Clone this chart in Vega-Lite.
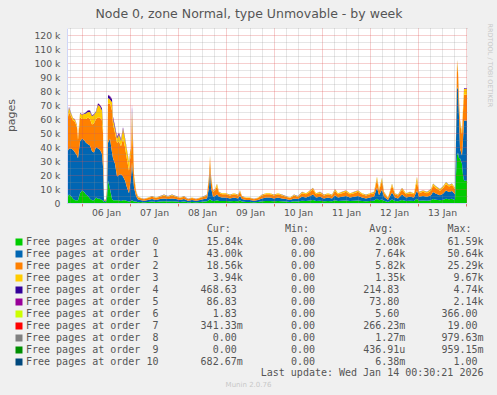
{
  "$schema": "https://vega.github.io/schema/vega-lite/v6.json",
  "width": 400,
  "height": 175,
  "autosize": "none",
  "padding": {"left": 67, "top": 28, "right": 30, "bottom": 192},
  "background": "#f0f0f0",
  "view": {"fill": "#ffffff", "stroke": null},
  "title": {"text": "Node 0, zone Normal, type Unmovable - by week", "font": "DejaVu Sans", "fontSize": 12.5, "fontWeight": "normal", "color": "#555555", "frame": "group", "anchor": "middle", "dx": -18, "offset": 3},
  "data": {"values": [
    {"t":"2026-01-05T16:30","o0":4000,"o1":32000,"o2":22000,"o3":2000,"o4":500,"o5":300},
    {"t":"2026-01-05T17:30","o0":6000,"o1":33000,"o2":26000,"o3":3000,"o4":500,"o5":300},
    {"t":"2026-01-05T18:30","o0":5000,"o1":34000,"o2":23000,"o3":2000,"o4":300,"o5":100},
    {"t":"2026-01-05T19:30","o0":3000,"o1":35000,"o2":21000,"o3":1500,"o4":200,"o5":100},
    {"t":"2026-01-05T20:30","o0":2000,"o1":34000,"o2":22000,"o3":1500,"o4":200,"o5":100},
    {"t":"2026-01-05T21:30","o0":2000,"o1":32000,"o2":20000,"o3":1500,"o4":300,"o5":100},
    {"t":"2026-01-05T22:00","o0":2000,"o1":30000,"o2":13000,"o3":1500,"o4":300,"o5":100},
    {"t":"2026-01-05T23:00","o0":7000,"o1":37000,"o2":17000,"o3":3000,"o4":300,"o5":100},
    {"t":"2026-01-06T00:00","o0":9000,"o1":37000,"o2":14000,"o3":3000,"o4":300,"o5":100},
    {"t":"2026-01-06T01:00","o0":8000,"o1":37000,"o2":15000,"o3":3500,"o4":400,"o5":100},
    {"t":"2026-01-06T02:00","o0":6000,"o1":37000,"o2":17000,"o3":4000,"o4":800,"o5":200},
    {"t":"2026-01-06T03:00","o0":5000,"o1":37000,"o2":19000,"o3":4000,"o4":1000,"o5":300},
    {"t":"2026-01-06T04:00","o0":3000,"o1":38000,"o2":19000,"o3":5000,"o4":1000,"o5":200},
    {"t":"2026-01-06T05:00","o0":2000,"o1":35000,"o2":19000,"o3":6000,"o4":500,"o5":100},
    {"t":"2026-01-06T06:00","o0":2000,"o1":34000,"o2":21000,"o3":6000,"o4":400,"o5":100},
    {"t":"2026-01-06T07:00","o0":4000,"o1":36000,"o2":20000,"o3":5000,"o4":500,"o5":100},
    {"t":"2026-01-06T08:00","o0":3000,"o1":36000,"o2":22000,"o3":9000,"o4":1000,"o5":200},
    {"t":"2026-01-06T09:00","o0":3000,"o1":35000,"o2":23000,"o3":8000,"o4":1000,"o5":200},
    {"t":"2026-01-06T10:00","o0":2000,"o1":33000,"o2":24000,"o3":7000,"o4":1500,"o5":300},
    {"t":"2026-01-06T10:30","o0":2000,"o1":24000,"o2":24000,"o3":5000,"o4":1500,"o5":500},
    {"t":"2026-01-06T11:00","o0":500,"o1":1000,"o2":500,"o3":200,"o4":50,"o5":10},
    {"t":"2026-01-06T12:00","o0":1000,"o1":1000,"o2":500,"o3":200,"o4":50,"o5":10},
    {"t":"2026-01-06T12:30","o0":3000,"o1":3000,"o2":3000,"o3":500,"o4":100,"o5":20},
    {"t":"2026-01-06T13:00","o0":16000,"o1":27000,"o2":28000,"o3":4000,"o4":2000,"o5":300},
    {"t":"2026-01-06T14:00","o0":10000,"o1":36000,"o2":25000,"o3":3000,"o4":2000,"o5":500},
    {"t":"2026-01-06T15:00","o0":3000,"o1":33000,"o2":30000,"o3":6000,"o4":2000,"o5":500},
    {"t":"2026-01-06T15:30","o0":2000,"o1":30000,"o2":24000,"o3":4000,"o4":1500,"o5":300},
    {"t":"2026-01-06T16:30","o0":2000,"o1":26000,"o2":22000,"o3":3000,"o4":1500,"o5":500},
    {"t":"2026-01-06T17:30","o0":2000,"o1":17000,"o2":24000,"o3":3000,"o4":1000,"o5":500},
    {"t":"2026-01-06T18:30","o0":2000,"o1":18000,"o2":24000,"o3":5000,"o4":1000,"o5":300},
    {"t":"2026-01-06T19:30","o0":1500,"o1":19000,"o2":20000,"o3":4000,"o4":800,"o5":200},
    {"t":"2026-01-06T20:30","o0":2000,"o1":17000,"o2":27000,"o3":7000,"o4":1000,"o5":200},
    {"t":"2026-01-06T21:30","o0":2000,"o1":14000,"o2":24000,"o3":6000,"o4":800,"o5":200},
    {"t":"2026-01-06T22:30","o0":1500,"o1":9500,"o2":20000,"o3":6500,"o4":500,"o5":100},
    {"t":"2026-01-06T23:30","o0":1000,"o1":6000,"o2":16000,"o3":6000,"o4":500,"o5":100},
    {"t":"2026-01-07T00:00","o0":1000,"o1":12000,"o2":18000,"o3":5000,"o4":300,"o5":100},
    {"t":"2026-01-07T00:30","o0":1500,"o1":17000,"o2":15000,"o3":5000,"o4":300,"o5":100},
    {"t":"2026-01-07T01:00","o0":2000,"o1":27000,"o2":30000,"o3":7000,"o4":3000,"o5":2000},
    {"t":"2026-01-07T02:00","o0":1000,"o1":10000,"o2":8000,"o3":2000,"o4":300,"o5":100},
    {"t":"2026-01-07T03:00","o0":1000,"o1":4000,"o2":3000,"o3":1000,"o4":100,"o5":50},
    {"t":"2026-01-07T04:00","o0":500,"o1":2000,"o2":1500,"o3":500,"o4":100,"o5":20},
    {"t":"2026-01-07T05:00","o0":800,"o1":1400,"o2":1300,"o3":400,"o4":80,"o5":20},
    {"t":"2026-01-07T07:00","o0":600,"o1":1000,"o2":1000,"o3":300,"o4":60,"o5":10},
    {"t":"2026-01-07T09:00","o0":800,"o1":1400,"o2":1300,"o3":400,"o4":80,"o5":20},
    {"t":"2026-01-07T11:00","o0":1000,"o1":1800,"o2":1600,"o3":500,"o4":80,"o5":20},
    {"t":"2026-01-07T13:00","o0":800,"o1":1400,"o2":1300,"o3":400,"o4":80,"o5":20},
    {"t":"2026-01-07T15:00","o0":1000,"o1":1800,"o2":1600,"o3":500,"o4":80,"o5":20},
    {"t":"2026-01-07T17:00","o0":1200,"o1":2100,"o2":2000,"o3":600,"o4":100,"o5":20},
    {"t":"2026-01-07T19:00","o0":1000,"o1":1800,"o2":1600,"o3":500,"o4":80,"o5":20},
    {"t":"2026-01-07T21:00","o0":1200,"o1":2100,"o2":2000,"o3":600,"o4":100,"o5":20},
    {"t":"2026-01-07T23:00","o0":1000,"o1":1800,"o2":1600,"o3":500,"o4":80,"o5":20},
    {"t":"2026-01-08T01:00","o0":800,"o1":1400,"o2":1300,"o3":400,"o4":80,"o5":20},
    {"t":"2026-01-08T03:00","o0":1000,"o1":1800,"o2":1600,"o3":500,"o4":80,"o5":20},
    {"t":"2026-01-08T05:00","o0":600,"o1":1000,"o2":1000,"o3":300,"o4":60,"o5":10},
    {"t":"2026-01-08T07:00","o0":800,"o1":1400,"o2":1300,"o3":400,"o4":80,"o5":20},
    {"t":"2026-01-08T09:00","o0":600,"o1":1000,"o2":1000,"o3":300,"o4":60,"o5":10},
    {"t":"2026-01-08T11:00","o0":800,"o1":1400,"o2":1300,"o3":400,"o4":80,"o5":20},
    {"t":"2026-01-08T13:00","o0":1000,"o1":1800,"o2":1600,"o3":500,"o4":80,"o5":20},
    {"t":"2026-01-08T14:30","o0":1200,"o1":2100,"o2":2000,"o3":600,"o4":100,"o5":20},
    {"t":"2026-01-08T15:30","o0":2000,"o1":9000,"o2":7000,"o3":1500,"o4":300,"o5":100},
    {"t":"2026-01-08T16:00","o0":3000,"o1":21000,"o2":9000,"o3":1000,"o4":200,"o5":50},
    {"t":"2026-01-08T16:30","o0":2000,"o1":9000,"o2":7000,"o3":1500,"o4":300,"o5":100},
    {"t":"2026-01-08T17:30","o0":1500,"o1":3000,"o2":3500,"o3":800,"o4":150,"o5":50},
    {"t":"2026-01-08T18:30","o0":1500,"o1":3500,"o2":4000,"o3":800,"o4":150,"o5":50},
    {"t":"2026-01-08T19:30","o0":2000,"o1":4000,"o2":6000,"o3":1800,"o4":150,"o5":50},
    {"t":"2026-01-08T20:30","o0":1500,"o1":3000,"o2":2800,"o3":600,"o4":100,"o5":20},
    {"t":"2026-01-08T22:00","o0":1400,"o1":2500,"o2":2300,"o3":700,"o4":100,"o5":20},
    {"t":"2026-01-09T00:00","o0":1400,"o1":2500,"o2":2300,"o3":700,"o4":100,"o5":20},
    {"t":"2026-01-09T02:00","o0":1200,"o1":2100,"o2":2000,"o3":600,"o4":100,"o5":20},
    {"t":"2026-01-09T04:00","o0":1400,"o1":2500,"o2":2300,"o3":700,"o4":100,"o5":20},
    {"t":"2026-01-09T06:00","o0":1200,"o1":2100,"o2":2000,"o3":600,"o4":100,"o5":20},
    {"t":"2026-01-09T07:00","o0":1800,"o1":3200,"o2":3000,"o3":900,"o4":100,"o5":20},
    {"t":"2026-01-09T08:00","o0":1000,"o1":1800,"o2":1600,"o3":500,"o4":80,"o5":20},
    {"t":"2026-01-09T10:00","o0":800,"o1":1400,"o2":1300,"o3":400,"o4":80,"o5":20},
    {"t":"2026-01-09T12:00","o0":800,"o1":1400,"o2":1300,"o3":400,"o4":80,"o5":20},
    {"t":"2026-01-09T14:00","o0":600,"o1":1000,"o2":1000,"o3":300,"o4":60,"o5":10},
    {"t":"2026-01-09T16:00","o0":800,"o1":1400,"o2":1300,"o3":400,"o4":80,"o5":20},
    {"t":"2026-01-09T18:00","o0":1200,"o1":2100,"o2":2000,"o3":600,"o4":100,"o5":20},
    {"t":"2026-01-09T20:00","o0":1400,"o1":2500,"o2":2300,"o3":700,"o4":100,"o5":20},
    {"t":"2026-01-09T22:00","o0":1400,"o1":2500,"o2":2300,"o3":700,"o4":100,"o5":20},
    {"t":"2026-01-10T00:00","o0":1200,"o1":2100,"o2":2000,"o3":600,"o4":100,"o5":20},
    {"t":"2026-01-10T02:00","o0":1400,"o1":2500,"o2":2300,"o3":700,"o4":100,"o5":20},
    {"t":"2026-01-10T04:00","o0":1200,"o1":2100,"o2":2000,"o3":600,"o4":100,"o5":20},
    {"t":"2026-01-10T06:00","o0":1000,"o1":1800,"o2":1600,"o3":500,"o4":80,"o5":20},
    {"t":"2026-01-10T08:00","o0":800,"o1":1400,"o2":1300,"o3":400,"o4":80,"o5":20},
    {"t":"2026-01-10T10:00","o0":1200,"o1":2100,"o2":2000,"o3":600,"o4":100,"o5":20},
    {"t":"2026-01-10T12:00","o0":1000,"o1":1800,"o2":1600,"o3":500,"o4":80,"o5":20},
    {"t":"2026-01-10T14:00","o0":1600,"o1":2800,"o2":2600,"o3":800,"o4":150,"o5":50},
    {"t":"2026-01-10T16:00","o0":1400,"o1":2500,"o2":2300,"o3":700,"o4":100,"o5":20},
    {"t":"2026-01-10T18:00","o0":1800,"o1":3200,"o2":3000,"o3":900,"o4":100,"o5":20},
    {"t":"2026-01-10T19:30","o0":2200,"o1":3800,"o2":3600,"o3":1100,"o4":200,"o5":50},
    {"t":"2026-01-10T21:00","o0":1400,"o1":2500,"o2":2300,"o3":700,"o4":100,"o5":20},
    {"t":"2026-01-10T23:00","o0":1600,"o1":2800,"o2":2600,"o3":800,"o4":150,"o5":50},
    {"t":"2026-01-11T01:00","o0":1200,"o1":2100,"o2":2000,"o3":600,"o4":100,"o5":20},
    {"t":"2026-01-11T03:00","o0":1400,"o1":2500,"o2":2300,"o3":700,"o4":100,"o5":20},
    {"t":"2026-01-11T05:00","o0":1200,"o1":2100,"o2":2000,"o3":600,"o4":100,"o5":20},
    {"t":"2026-01-11T06:30","o0":2000,"o1":3500,"o2":3300,"o3":1000,"o4":150,"o5":50},
    {"t":"2026-01-11T08:00","o0":1400,"o1":2500,"o2":2300,"o3":700,"o4":100,"o5":20},
    {"t":"2026-01-11T10:00","o0":1600,"o1":2800,"o2":2600,"o3":800,"o4":150,"o5":50},
    {"t":"2026-01-11T12:00","o0":1800,"o1":3200,"o2":3000,"o3":900,"o4":100,"o5":20},
    {"t":"2026-01-11T14:00","o0":1400,"o1":2500,"o2":2300,"o3":700,"o4":100,"o5":20},
    {"t":"2026-01-11T16:00","o0":1600,"o1":2800,"o2":2600,"o3":800,"o4":150,"o5":50},
    {"t":"2026-01-11T18:00","o0":1800,"o1":3200,"o2":3000,"o3":900,"o4":100,"o5":20},
    {"t":"2026-01-11T20:00","o0":1400,"o1":2500,"o2":2300,"o3":700,"o4":100,"o5":20},
    {"t":"2026-01-11T22:00","o0":1200,"o1":2100,"o2":2000,"o3":600,"o4":100,"o5":20},
    {"t":"2026-01-12T00:00","o0":1400,"o1":2500,"o2":2300,"o3":700,"o4":100,"o5":20},
    {"t":"2026-01-12T02:00","o0":1600,"o1":2800,"o2":2600,"o3":800,"o4":150,"o5":50},
    {"t":"2026-01-12T03:30","o0":3000,"o1":8000,"o2":6000,"o3":1800,"o4":150,"o5":50},
    {"t":"2026-01-12T04:30","o0":2000,"o1":3500,"o2":3300,"o3":1000,"o4":150,"o5":50},
    {"t":"2026-01-12T06:00","o0":2500,"o1":7000,"o2":6500,"o3":1800,"o4":150,"o5":50},
    {"t":"2026-01-12T07:00","o0":1600,"o1":2800,"o2":2600,"o3":800,"o4":150,"o5":50},
    {"t":"2026-01-12T09:00","o0":800,"o1":1400,"o2":1300,"o3":400,"o4":80,"o5":20},
    {"t":"2026-01-12T11:00","o0":2500,"o1":5000,"o2":5000,"o3":1300,"o4":150,"o5":50},
    {"t":"2026-01-12T12:30","o0":1400,"o1":2500,"o2":2300,"o3":700,"o4":100,"o5":20},
    {"t":"2026-01-12T14:00","o0":1200,"o1":2100,"o2":2000,"o3":600,"o4":100,"o5":20},
    {"t":"2026-01-12T16:00","o0":2200,"o1":3800,"o2":3600,"o3":1100,"o4":200,"o5":50},
    {"t":"2026-01-12T18:00","o0":1400,"o1":2500,"o2":2300,"o3":700,"o4":100,"o5":20},
    {"t":"2026-01-12T20:00","o0":1600,"o1":2800,"o2":2600,"o3":800,"o4":150,"o5":50},
    {"t":"2026-01-12T22:00","o0":1400,"o1":2500,"o2":2300,"o3":700,"o4":100,"o5":20},
    {"t":"2026-01-12T23:30","o0":3000,"o1":6000,"o2":6500,"o3":3000,"o4":300,"o5":200},
    {"t":"2026-01-13T00:30","o0":1600,"o1":2800,"o2":2600,"o3":800,"o4":150,"o5":50},
    {"t":"2026-01-13T02:30","o0":1800,"o1":3200,"o2":3000,"o3":900,"o4":100,"o5":20},
    {"t":"2026-01-13T04:30","o0":1600,"o1":2800,"o2":2600,"o3":800,"o4":150,"o5":50},
    {"t":"2026-01-13T06:30","o0":2000,"o1":3500,"o2":3300,"o3":1000,"o4":150,"o5":50},
    {"t":"2026-01-13T07:30","o0":2800,"o1":5000,"o2":4700,"o3":1300,"o4":150,"o5":50},
    {"t":"2026-01-13T09:00","o0":2400,"o1":4200,"o2":4000,"o3":1200,"o4":150,"o5":50},
    {"t":"2026-01-13T11:00","o0":2000,"o1":3500,"o2":3300,"o3":1000,"o4":150,"o5":50},
    {"t":"2026-01-13T12:30","o0":2400,"o1":4200,"o2":4000,"o3":1200,"o4":150,"o5":50},
    {"t":"2026-01-13T14:00","o0":3000,"o1":6000,"o2":4500,"o3":1300,"o4":150,"o5":50},
    {"t":"2026-01-13T15:30","o0":2600,"o1":5200,"o2":4000,"o3":1000,"o4":150,"o5":50},
    {"t":"2026-01-13T17:00","o0":3000,"o1":5500,"o2":4300,"o3":1000,"o4":150,"o5":50},
    {"t":"2026-01-13T18:00","o0":2400,"o1":4500,"o2":4000,"o3":1000,"o4":100,"o5":20},
    {"t":"2026-01-13T18:30","o0":2200,"o1":4000,"o2":3600,"o3":1000,"o4":100,"o5":20},
    {"t":"2026-01-13T19:00","o0":20000,"o1":25000,"o2":5000,"o3":500,"o4":100,"o5":20},
    {"t":"2026-01-13T19:30","o0":34000,"o1":49000,"o2":17000,"o3":2000,"o4":300,"o5":100},
    {"t":"2026-01-13T20:00","o0":36000,"o1":45000,"o2":12000,"o3":2000,"o4":300,"o5":100},
    {"t":"2026-01-13T20:30","o0":32000,"o1":30000,"o2":11000,"o3":2000,"o4":300,"o5":100},
    {"t":"2026-01-13T21:00","o0":32000,"o1":7000,"o2":18000,"o3":2000,"o4":300,"o5":100},
    {"t":"2026-01-13T22:00","o0":28000,"o1":6000,"o2":15000,"o3":2000,"o4":200,"o5":100},
    {"t":"2026-01-13T22:30","o0":20000,"o1":25000,"o2":20000,"o3":3000,"o4":300,"o5":100},
    {"t":"2026-01-13T23:00","o0":16000,"o1":43000,"o2":18500,"o3":4000,"o4":500,"o5":100},
    {"t":"2026-01-13T23:30","o0":15840,"o1":43000,"o2":18560,"o3":3940,"o4":469,"o5":87},
    {"t":"2026-01-14T00:00","o0":15840,"o1":43000,"o2":18560,"o3":3940,"o4":469,"o5":87},
    {"t":"2026-01-14T00:30","o0":15840,"o1":43000,"o2":18560,"o3":3940,"o4":469,"o5":87}
  ]},
  "transform": [{"fold": ["o0", "o1", "o2", "o3", "o4", "o5"], "as": ["order", "pages"]}],
  "layer": [
    {
      "mark": {"type": "area", "interpolate": "linear", "clip": true},
      "encoding": {
        "x": {
          "field": "t", "type": "temporal",
          "scale": {"domain": [{"year": 2026, "month": 1, "date": 5, "hours": 16, "minutes": 30}, {"year": 2026, "month": 1, "date": 14, "hours": 0, "minutes": 30}]},
          "axis": {
            "orient": "bottom",
            "values": [
              {"year": 2026, "month": 1, "date": 6}, {"year": 2026, "month": 1, "date": 7}, {"year": 2026, "month": 1, "date": 8},
              {"year": 2026, "month": 1, "date": 9}, {"year": 2026, "month": 1, "date": 10}, {"year": 2026, "month": 1, "date": 11},
              {"year": 2026, "month": 1, "date": 12}, {"year": 2026, "month": 1, "date": 13}, {"year": 2026, "month": 1, "date": 14}
            ],
            "labelExpr": "date(datum.value) == 14 ? '' : timeFormat(datum.value, '%d %b')",
            "labelOffset": 24, "labelPadding": 2, "labelFlush": false, "labelOverlap": false,
            "labelFont": "DejaVu Sans", "labelFontSize": 9.3, "labelColor": "#555555",
            "tickSize": 3, "tickColor": "#e07070",
            "domainColor": "#cfd6f8",
            "grid": true, "gridColor": "#e05050", "gridOpacity": 0.55, "gridDash": [1, 1],
            "zindex": 1,
            "title": "Last update: Wed Jan 14 00:30:21 2026",
            "titleFont": "DejaVu Sans Mono", "titleFontSize": 10, "titleFontWeight": "normal", "titleColor": "#555555",
            "titleX": 416, "titleY": 169, "titleAlign": "right", "titleBaseline": "middle", "titleAngle": 0
          }
        },
        "y": {
          "field": "pages", "type": "quantitative", "stack": "zero",
          "scale": {"domain": [0, 125000], "nice": false},
          "axis": {
            "orient": "left",
            "values": [0, 10000, 20000, 30000, 40000, 50000, 60000, 70000, 80000, 90000, 100000, 110000, 120000],
            "labelExpr": "datum.value == 0 ? '0' : format(datum.value / 1000, 'd') + ' k'",
            "labelFont": "DejaVu Sans", "labelFontSize": 9.3, "labelColor": "#555555", "labelPadding": 7,
            "ticks": false, "tickSize": 0,
            "domainColor": "#cfd6f8",
            "grid": true, "gridColor": "#e05050", "gridOpacity": 0.55, "gridDash": [1, 1],
            "zindex": 1,
            "title": "pages", "titleFont": "DejaVu Sans", "titleFontSize": 11, "titleFontWeight": "normal", "titleColor": "#555555",
            "titleX": -56, "titleY": 87, "titleAngle": -90, "titleAlign": "center", "titleBaseline": "middle"
          }
        },
        "order": {"field": "order", "sort": "ascending"},
        "color": {
          "field": "order", "type": "nominal",
          "scale": {
            "domain": ["o0", "o1", "o2", "o3", "o4", "o5", "o6", "o7", "o8", "o9", "o10"],
            "range": ["#00cc00", "#0066b3", "#ff8000", "#ffcc00", "#330099", "#990099", "#ccff00", "#ff0000", "#808080", "#008f00", "#00487d"]
          },
          "legend": {
            "orient": "none", "legendX": -53, "legendY": 196, "direction": "vertical", "padding": 0,
            "symbolType": "square", "symbolSize": 49, "symbolStrokeWidth": 0, "symbolOpacity": 1,
            "labelFont": "DejaVu Sans Mono", "labelFontSize": 10, "labelColor": "#555555", "labelLimit": 1000, "labelOffset": 2,
            "rowPadding": 2,
            "labelExpr": "replace(['Free pages at order  0        15.84k        0.00          2.08k       61.59k', 'Free pages at order  1        43.00k        0.00          7.64k       50.64k', 'Free pages at order  2        18.56k        0.00          5.82k       25.29k', 'Free pages at order  3         3.94k        0.00          1.35k        9.67k', 'Free pages at order  4       468.63         0.00        214.83         4.74k', 'Free pages at order  5        86.83         0.00         73.80         2.14k', 'Free pages at order  6         1.83         0.00          5.60       366.00', 'Free pages at order  7       341.33m        0.00        266.23m       19.00', 'Free pages at order  8         0.00         0.00          1.27m      979.63m', 'Free pages at order  9         0.00         0.00        436.91u      959.15m', 'Free pages at order 10       682.67m        0.00          6.38m        1.00'][toNumber(slice(datum.label, 1))], regexp(' ', 'g'), '\u00a0')",
            "title": "\u200b\u00a0\u00a0\u00a0\u00a0\u00a0\u00a0\u00a0\u00a0\u00a0\u00a0\u00a0\u00a0\u00a0\u00a0\u00a0\u00a0\u00a0\u00a0\u00a0\u00a0\u00a0\u00a0\u00a0\u00a0\u00a0\u00a0\u00a0\u00a0\u00a0\u00a0\u00a0\u00a0Cur:\u00a0\u00a0\u00a0\u00a0\u00a0\u00a0\u00a0\u00a0\u00a0Min:\u00a0\u00a0\u00a0\u00a0\u00a0\u00a0\u00a0\u00a0\u00a0\u00a0Avg:\u00a0\u00a0\u00a0\u00a0\u00a0\u00a0\u00a0\u00a0\u00a0Max:",
            "titleFont": "DejaVu Sans Mono", "titleFontSize": 10, "titleFontWeight": "normal", "titleColor": "#555555",
            "titleLimit": 1000, "titlePadding": 3, "titleAnchor": "start", "titleAlign": "left"
          }
        }
      }
    },
    {
      "mark": {"type": "point", "opacity": 0},
      "encoding": {
        "x": {
          "field": "t", "type": "temporal",
          "scale": {"domain": [{"year": 2026, "month": 1, "date": 5, "hours": 16, "minutes": 30}, {"year": 2026, "month": 1, "date": 14, "hours": 0, "minutes": 30}]},
          "axis": {
            "orient": "top",
            "values": [
              {"year": 2026, "month": 1, "date": 5, "hours": 18},
              {"year": 2026, "month": 1, "date": 6, "hours": 6}, {"year": 2026, "month": 1, "date": 6, "hours": 12}, {"year": 2026, "month": 1, "date": 6, "hours": 18},
              {"year": 2026, "month": 1, "date": 7, "hours": 6}, {"year": 2026, "month": 1, "date": 7, "hours": 12}, {"year": 2026, "month": 1, "date": 7, "hours": 18},
              {"year": 2026, "month": 1, "date": 8, "hours": 6}, {"year": 2026, "month": 1, "date": 8, "hours": 12}, {"year": 2026, "month": 1, "date": 8, "hours": 18},
              {"year": 2026, "month": 1, "date": 9, "hours": 6}, {"year": 2026, "month": 1, "date": 9, "hours": 12}, {"year": 2026, "month": 1, "date": 9, "hours": 18},
              {"year": 2026, "month": 1, "date": 10, "hours": 6}, {"year": 2026, "month": 1, "date": 10, "hours": 12}, {"year": 2026, "month": 1, "date": 10, "hours": 18},
              {"year": 2026, "month": 1, "date": 11, "hours": 6}, {"year": 2026, "month": 1, "date": 11, "hours": 12}, {"year": 2026, "month": 1, "date": 11, "hours": 18},
              {"year": 2026, "month": 1, "date": 12, "hours": 6}, {"year": 2026, "month": 1, "date": 12, "hours": 12}, {"year": 2026, "month": 1, "date": 12, "hours": 18},
              {"year": 2026, "month": 1, "date": 13, "hours": 6}, {"year": 2026, "month": 1, "date": 13, "hours": 12}, {"year": 2026, "month": 1, "date": 13, "hours": 18}
            ],
            "labels": false, "ticks": false, "domain": false,
            "grid": true, "gridColor": "#8f8f8f", "gridOpacity": 0.45, "gridDash": [1, 1],
            "zindex": 1,
            "title": "Munin 2.0.76", "titleFont": "DejaVu Sans", "titleFontSize": 7, "titleFontWeight": "normal", "titleColor": "#c8c8c8",
            "titleX": 181, "titleY": 356, "titleAlign": "center", "titleBaseline": "middle", "titleAngle": 0
          }
        },
        "y": {
          "field": "pages", "type": "quantitative",
          "scale": {"domain": [0, 125000], "nice": false},
          "axis": {
            "orient": "right",
            "values": [5000, 15000, 25000, 35000, 45000, 55000, 65000, 75000, 85000, 95000, 105000, 115000, 125000],
            "labels": false, "ticks": false, "domain": false,
            "grid": true, "gridColor": "#8f8f8f", "gridOpacity": 0.45, "gridDash": [1, 1],
            "zindex": 1,
            "title": "RRDTOOL / TOBI OETIKER", "titleFont": "DejaVu Sans", "titleFontSize": 6.5, "titleFontWeight": "normal", "titleColor": "#c8c8c8",
            "titleX": 22, "titleY": -5, "titleAngle": 90, "titleAlign": "left", "titleBaseline": "middle"
          }
        }
      }
    }
  ],
  "resolve": {"axis": {"x": "independent", "y": "independent"}}
}
